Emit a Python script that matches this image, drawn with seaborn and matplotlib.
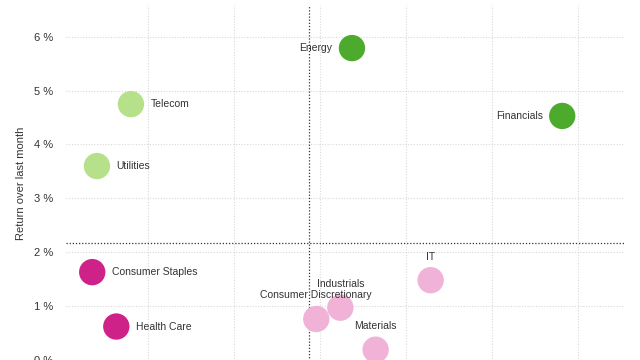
import numpy as np
import pandas as pd
import matplotlib
matplotlib.use("Agg")
import matplotlib.pyplot as plt
import seaborn as sns

# data
sectors = ["Energy", "Financials", "Telecom", "Utilities", "Consumer Staples",
           "Health Care", "IT", "Industrials", "Consumer Discretionary", "Materials"]
x_vals = [6.74, 11.63, 1.60, 0.81, 0.70, 1.26, 8.57, 6.47, 5.91, 7.29]
y_vals = [5.79, 4.53, 4.75, 3.60, 1.63, 0.62, 1.48, 0.97, 0.76, 0.19]
quadrant = ["high-right", "high-right", "high-left", "high-left", "low-left",
            "low-left", "low-right", "low-right", "low-right", "low-right"]
x_ref = 5.73
y_ref = 2.18
y_ticks = [0, 1, 2, 3, 4, 5, 6]
x_ticks = [2, 4, 6, 8, 10, 12]

palette = {"high-right": "#4caa2c", "high-left": "#b7e08b",
           "low-left": "#cf2289", "low-right": "#f0b2d7"}

# label placement: (dx, dy) in points, ha
label_pos = {
    "Energy": (-14, 0, "right"), "Financials": (-14, 0, "right"),
    "Telecom": (14, 0, "left"), "Utilities": (14, 0, "left"),
    "Consumer Staples": (14, 0, "left"), "Health Care": (14, 0, "left"),
    "IT": (0, 17, "center"), "Industrials": (0, 17, "center"),
    "Consumer Discretionary": (0, 17, "center"), "Materials": (0, 17, "center"),
}

df = pd.DataFrame({"sector": sectors, "x": x_vals, "y": y_vals, "group": quadrant})

sns.set_style("white")
plt.rcParams["font.family"] = ["Liberation Sans", "DejaVu Sans"]

fig = plt.figure(figsize=(6.4, 3.6), dpi=100)
ax = fig.add_axes([66 / 640, -15 / 360, 559 / 640, 370 / 360])

sns.scatterplot(data=df, x="x", y="y", hue="group", palette=palette,
                s=360, linewidth=0, legend=False, ax=ax, zorder=3)

ax.set_xlim(0.09, 13.09)
ax.set_ylim(-0.28, 6.59)
ax.set_yticks(y_ticks)
ax.set_yticklabels([f"{t} %" for t in y_ticks], fontsize=8, color="#333333")
ax.set_xticks(x_ticks)
ax.set_xticklabels([])
ax.tick_params(axis="y", length=8, width=0.8, color="#bbbbbb", pad=1.5)
ax.tick_params(axis="x", length=0)
ax.grid(True, linestyle=(0, (1, 1.5)), color="#d9d9d9", linewidth=0.8)
for s in ax.spines.values():
    s.set_visible(False)

ax.axhline(y_ref, color="#333333", linestyle=(0, (1, 1.5)), linewidth=0.9, zorder=2)
ax.axvline(x_ref, color="#333333", linestyle=(0, (1, 1.5)), linewidth=0.9, zorder=2)

for name, xv, yv in zip(sectors, x_vals, y_vals):
    dx, dy, ha = label_pos[name]
    ax.annotate(name, (xv, yv), xytext=(dx, dy), textcoords="offset points",
                ha=ha, va="center", fontsize=7.5, color="#333333", zorder=4)

ax.set_xlabel("")
ax.set_ylabel("Return over last month", fontsize=8, color="#333333")
ax.yaxis.set_label_coords(-40 / 559, (360 - 183 + 15) / 370)

fig.savefig("out.png", dpi=100)
